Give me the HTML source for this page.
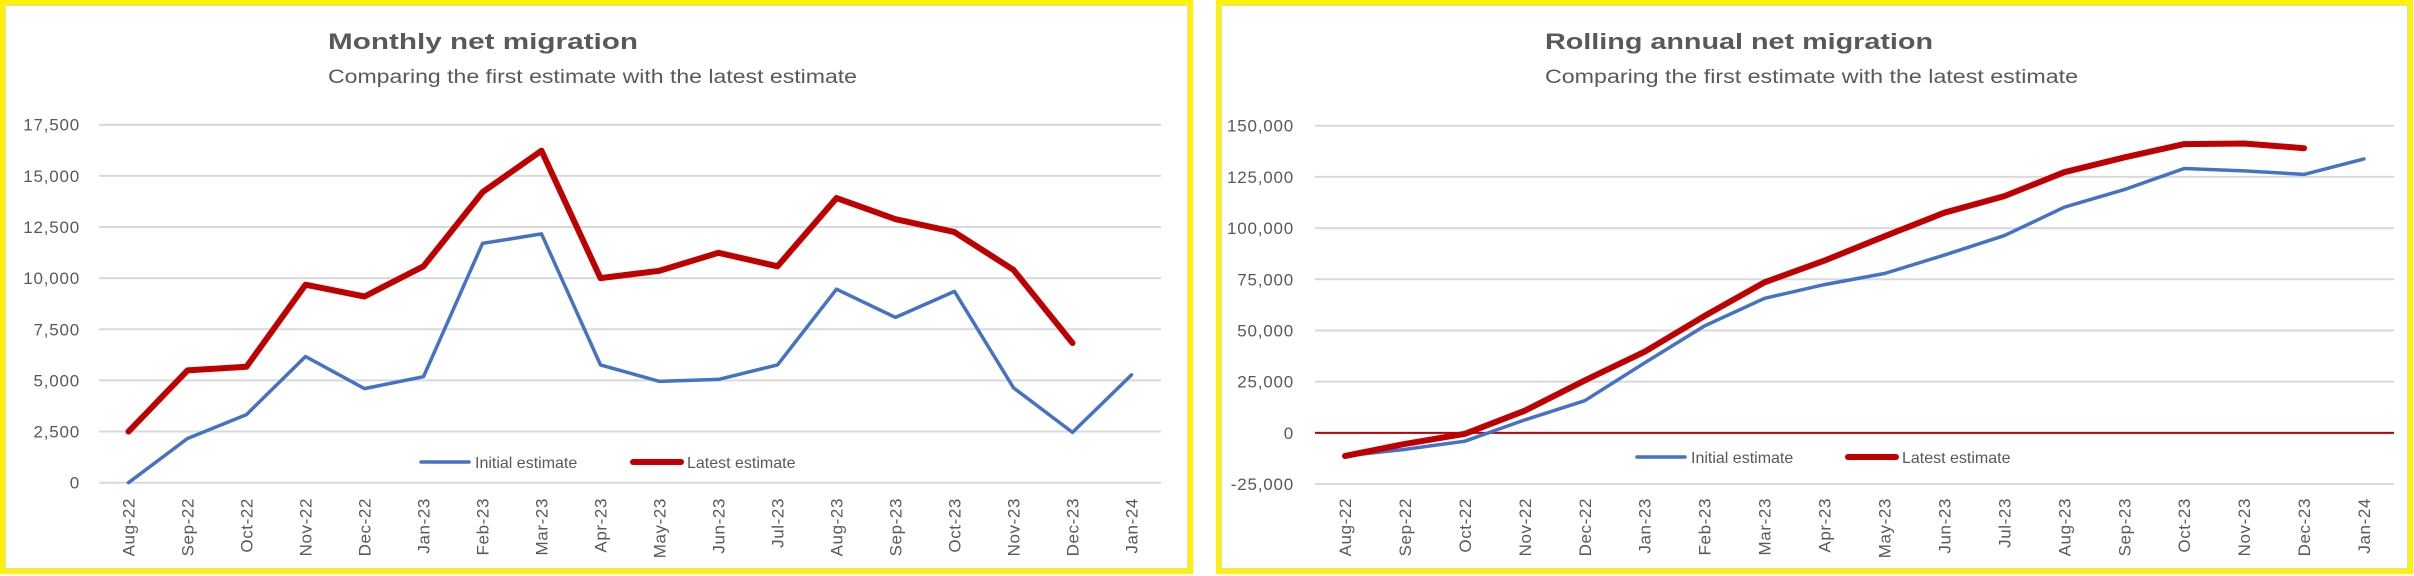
<!DOCTYPE html>
<html><head><meta charset="utf-8"><style>
html,body{margin:0;padding:0;background:#fff;}
svg{display:block;}
text{font-family:"Liberation Sans",sans-serif;fill:#595959;}
</style></head><body>
<svg id="s" width="2414" height="576" viewBox="0 0 2414 576" xmlns="http://www.w3.org/2000/svg">
<rect x="0" y="0" width="2414" height="576" fill="#fff"/>
<rect x="2.5" y="2.5" width="1188" height="569" fill="#fff" stroke="#fff200" stroke-width="5"/>
<rect x="5.5" y="5.5" width="1182" height="563" fill="none" stroke="#d9d9d9" stroke-width="1"/>
<rect x="1218.5" y="2.5" width="1192" height="569" fill="#fff" stroke="#fff200" stroke-width="5"/>
<rect x="1221.5" y="5.5" width="1186" height="563" fill="none" stroke="#d9d9d9" stroke-width="1"/>
<text x="328" y="49" font-size="22" font-weight="bold" textLength="310" lengthAdjust="spacingAndGlyphs">Monthly net migration</text>
<text x="328" y="83" font-size="19" textLength="529" lengthAdjust="spacingAndGlyphs">Comparing the first estimate with the latest estimate</text>
<text x="1545" y="49" font-size="22" font-weight="bold" textLength="388" lengthAdjust="spacingAndGlyphs">Rolling annual net migration</text>
<text x="1545" y="83" font-size="19" textLength="533" lengthAdjust="spacingAndGlyphs">Comparing the first estimate with the latest estimate</text>
<g id="g1"></g><g id="g2"></g>
</svg>
<script>
const categories = ["Aug-22","Sep-22","Oct-22","Nov-22","Dec-22","Jan-23","Feb-23","Mar-23","Apr-23","May-23","Jun-23","Jul-23","Aug-23","Sep-23","Oct-23","Nov-23","Dec-23","Jan-24"];
const monthlyInitial = [0,2160,3330,6170,4600,5180,11700,12160,5760,4950,5050,5760,9460,8080,9350,4640,2460,5270];
const monthlyLatest = [2500,5490,5670,9680,9100,10580,14200,16230,10000,10360,11240,10580,13910,12880,12250,10400,6830];
const monthlyTicks = [0,2500,5000,7500,10000,12500,15000,17500];
const rollingInitial = [-11300,-8100,-4100,6300,15700,34200,52200,65700,72400,77800,86800,96300,110200,118800,129100,127900,126200,133800];
const rollingLatest = [-11300,-5400,-500,10800,25600,39600,57100,73500,84100,96000,107500,115600,127300,134500,141000,141300,139000];
const rollingTicks = [-25000,0,25000,50000,75000,100000,125000,150000];

const NS="http://www.w3.org/2000/svg";
function mk(parent,tag,attrs){const e=document.createElementNS(NS,tag);for(const k in attrs)e.setAttribute(k,attrs[k]);parent.appendChild(e);return e;}

function drawChart(gid,cfg){
  const g=document.getElementById(gid);
  const n=categories.length;
  const step=(cfg.x1-cfg.x0)/n;
  const xs=i=>cfg.x0+step*(i+0.5);
  const ys=v=>cfg.yBot-(v-cfg.vMin)/(cfg.vMax-cfg.vMin)*(cfg.yBot-cfg.yTop);
  cfg.ticks.forEach(t=>{
    const ln=mk(g,'line',{x1:cfg.x0,x2:cfg.x1,y1:ys(t),y2:ys(t),stroke:'#d9d9d9','stroke-width':2});
    
    
    const tx=mk(g,'text',{x:cfg.labelX,y:ys(t)+6,'font-size':17,'letter-spacing':0.8,'text-anchor':'end'});
    tx.textContent=t.toLocaleString('en-GB');
    
    
  });
  if(cfg.zeroLine){
    const z=mk(g,'line',{x1:cfg.x0,x2:cfg.x1,y1:ys(0),y2:ys(0),stroke:'#c00000','stroke-width':2});
    
    
  }
  categories.forEach((c,i)=>{
    const x=xs(i);
    const tx=mk(g,'text',{x:0,y:0,'font-size':17,'letter-spacing':0.6,'text-anchor':'end',transform:`translate(${x+6},${cfg.labelTop}) rotate(-90)`});
    tx.textContent=c;
    
    
  });
  const pts=arr=>arr.map((v,i)=>xs(i).toFixed(1)+','+ys(v).toFixed(1)).join(' ');
  const p1=mk(g,'polyline',{points:pts(cfg.initial),fill:'none',stroke:'#4472c4','stroke-width':3.5,'stroke-linejoin':'round','stroke-linecap':'round'});
  
  
  const p2=mk(g,'polyline',{points:pts(cfg.latest),fill:'none',stroke:'#c00000','stroke-width':6,'stroke-linejoin':'round','stroke-linecap':'round'});
  
  
  const L=cfg.legend;
  const l1=mk(g,'line',{x1:L.bx0,x2:L.bx0+48,y1:L.y,y2:L.y,stroke:'#4472c4','stroke-width':3.5,'stroke-linecap':'round'});
  
  
  const t1=mk(g,'text',{x:L.bx0+54,y:L.y+6,'font-size':16});
  t1.textContent='Initial estimate';
  
  
  const l2=mk(g,'line',{x1:L.rx0,x2:L.rx0+48,y1:L.y,y2:L.y,stroke:'#c00000','stroke-width':6,'stroke-linecap':'round'});
  
  
  const t2=mk(g,'text',{x:L.rx0+54,y:L.y+6,'font-size':16});
  t2.textContent='Latest estimate';
  
  
}

drawChart('g1',{x0:99,x1:1161,yTop:124.7,yBot:482.7,vMin:0,vMax:17500,ticks:monthlyTicks,labelX:80,labelTop:498,
  initial:monthlyInitial,latest:monthlyLatest,zeroLine:false,legend:{bx0:421,rx0:633,y:462}});
drawChart('g2',{x0:1315,x1:2394,yTop:125.7,yBot:484,vMin:-25000,vMax:150000,ticks:rollingTicks,labelX:1294,labelTop:498,
  initial:rollingInitial,latest:rollingLatest,zeroLine:true,legend:{bx0:1637,rx0:1848,y:457}});
</script>
</body></html>
